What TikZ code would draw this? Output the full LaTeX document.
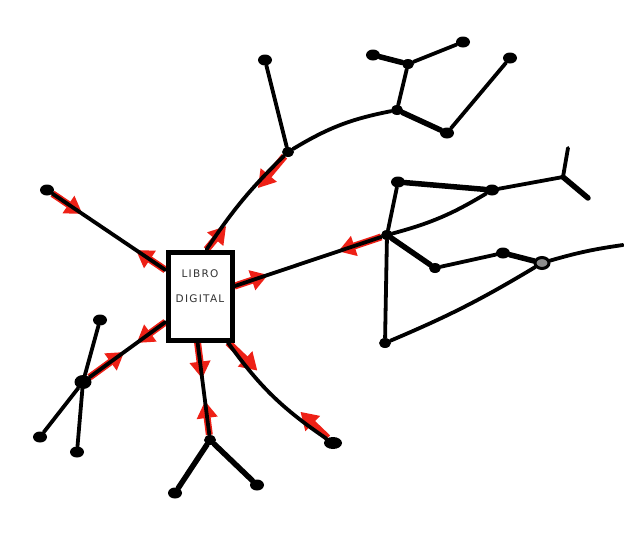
\documentclass[tikz,border=0pt]{standalone}
\usepackage{fontspec}
\usetikzlibrary{arrows.meta,shapes.geometric,calc}
\newfontfamily\handfont{DejaVu Sans}[LetterSpace=12.0]
\definecolor{markred}{RGB}{238,32,22}
\pgfdeclarelayer{bg}
\pgfsetlayers{bg,main}
\begin{document}
\begin{tikzpicture}[x=1pt,y=-1pt,
  ink/.style={line width=3.8pt, line cap=round, black},
  inkthick/.style={line width=5.5pt, line cap=round, black},
  dot/.style={ellipse, fill=black, minimum width=14pt, minimum height=11pt, inner sep=0pt},
  jdot/.style={ellipse, fill=black, minimum width=12pt, minimum height=10pt, inner sep=0pt},
  ring/.style={ellipse, draw=black, fill=black!45, line width=3pt, minimum width=14pt, minimum height=11pt, inner sep=0pt},
  redarr/.style={markred, line width=7pt, -{Triangle[length=17pt,width=20pt]}},
  bookbox/.style={draw, line width=5pt, minimum width=64pt, minimum height=88pt, inner sep=0pt, fill=white},
  booktext/.style={font=\handfont\fontsize{10.5}{25}\selectfont, align=center, text=black!80}
]
\useasboundingbox (0,0) rectangle (624,549);

% nodes
\node[bookbox] (box) at (200,296) {};
\node[booktext] (lbl) at (200,286) {LIBRO\\DIGITAL};
\node[dot]  (dlt)  at (47,190) {};
\node[jdot] (n1)   at (288,152) {};
\node[dot]  (dtop) at (265,60) {};
\node[jdot] (n2)   at (397,110) {};
\node[jdot] (n3)   at (408,64) {};
\node[dot]  (dl3)  at (373,55) {};
\node[dot]  (dr3)  at (463,42) {};
\node[dot]  (n4)   at (447,133) {};
\node[dot]  (d4)   at (510,58) {};
\node[jdot] (n5)   at (387,235) {};
\node[dot]  (n6)   at (398,182) {};
\node[dot]  (n7)   at (492,190) {};
\coordinate (n8)  at (563,177);
\coordinate (e8a) at (568,148);
\coordinate (e8b) at (588,198);
\node[jdot] (n9)   at (435,268) {};
\node[dot]  (n10)  at (503,253) {};
\node[ring] (n11)  at (542,263) {};
\coordinate (e11) at (623,245);
\node[jdot] (n12)  at (385,343) {};
\node[dot, minimum width=17pt, minimum height=14pt] (n13) at (83,382) {};
\node[dot]  (d13a) at (100,320) {};
\node[dot]  (d13b) at (40,437) {};
\node[dot]  (d13c) at (77,452) {};
\node[jdot] (n14)  at (210,440) {};
\node[dot]  (d14a) at (175,493) {};
\node[dot]  (d14b) at (257,485) {};
\node[dot, minimum width=18pt, minimum height=12pt] (dlr) at (333,443) {};

% red arrows along the spokes
\coordinate (a1) at ($(box.143)!0.25!(dlt)$);
\coordinate (a2) at ($(box.143)!0.70!(dlt)$);
\coordinate (b1) at ($(box.82)!0.24!(n1)$);
\coordinate (b2) at ($(box.82)!0.63!(n1)$);
\coordinate (c1) at ($(box.16)!0.22!(n5)$);
\coordinate (c2) at ($(box.16)!0.68!(n5)$);
\coordinate (f1) at ($(box.217)!0.35!(n13)$);
\coordinate (f2) at ($(box.217)!0.50!(n13)$);
\coordinate (g1) at ($(box.267)!0.37!(n14)$);
\coordinate (g2) at ($(box.267)!0.60!(n14)$);
\coordinate (h1) at ($(box.301)!0.28!(dlr)$);
\coordinate (h2) at ($(box.301)!0.69!(dlr)$);
\begin{pgfonlayer}{bg}
\draw[redarr] (box.143) -- (a1);
\draw[redarr] (dlt) -- (a2);
\draw[redarr] (box.82) -- (b1);
\draw[redarr] (n1) -- (b2);
\draw[redarr] (box.16) -- (c1);
\draw[redarr] (n5) -- (c2);
\draw[redarr] (box.217) -- (f1);
\draw[redarr] (n13) -- (f2);
\draw[redarr] (box.267) -- (g1);
\draw[redarr] (n14) -- (g2);
\draw[redarr] (box.301) -- (h1);
\draw[redarr] (dlr) -- (h2);
\end{pgfonlayer}

% spokes
\draw[ink] (box.143) -- (dlt);
\draw[ink] (box.82) to[bend left=6] (n1);
\draw[ink] (box.16) -- (n5);
\draw[ink] (box.217) -- (n13);
\draw[ink] (box.267) -- (n14);
\draw[ink] (box.301) to[bend right=10] (dlr);

% upper cluster
\draw[ink] (n1) -- (dtop);
\draw[ink] (n1) to[bend left=10] (n2);
\draw[ink] (n2) -- (n3);
\draw[inkthick] (n3) -- (dl3);
\draw[ink] (n3) -- (dr3);
\draw[inkthick] (n2) -- (n4);
\draw[ink] (n4) -- (d4);

% right cluster
\draw[ink] (n5) -- (n6);
\draw[inkthick] (n6) -- (n7);
\draw[ink] (n5) to[bend right=8] (n7);
\draw[ink] (n7) -- (n8);
\draw[ink] (n8) -- (e8a);
\draw[inkthick] (n8) -- (e8b);
\draw[inkthick] (n5) -- (n9);
\draw[ink] (n9) -- (n10);
\draw[inkthick] (n10) -- (n11);
\draw[ink] (n11) to[bend left=4] (e11);
\draw[ink] (n5) -- (n12);
\draw[ink] (n12) to[bend right=4] (n11);

% lower left cluster
\draw[ink] (d13a) -- (n13);
\draw[ink] (n13) -- (d13b);
\draw[ink] (n13) -- (d13c);

% bottom cluster
\draw[inkthick] (n14) -- (d14a);
\draw[inkthick] (n14) -- (d14b);
\end{tikzpicture}
\end{document}
